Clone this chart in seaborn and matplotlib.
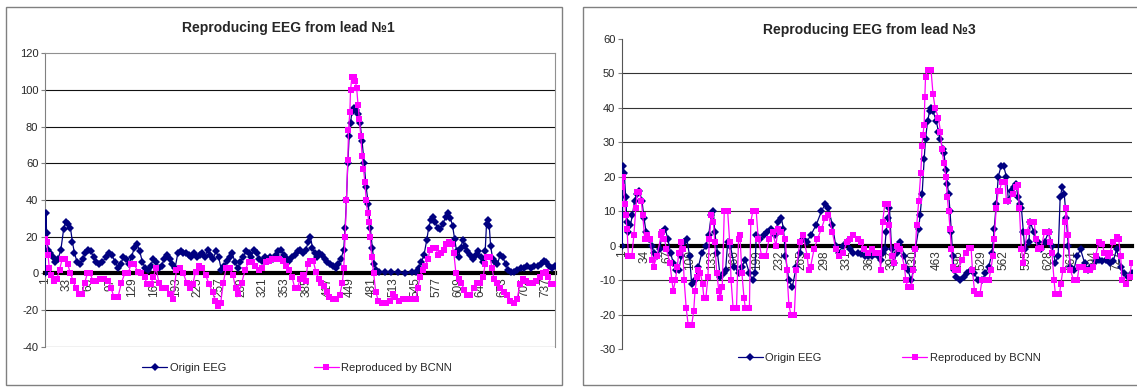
import matplotlib
matplotlib.use('Agg')
import matplotlib.pyplot as plt
import seaborn as sns
from matplotlib.lines import Line2D
from matplotlib.patches import Rectangle

# ---- lead 1 (sample index, value) ----
lead1_origin_x = [1, 2, 3, 5, 8, 12, 16, 20, 24, 28, 31, 34, 38, 41, 44, 48, 52, 56, 60, 64, 68, 72, 76, 80, 85,
                  90, 95, 99, 104, 108, 112, 116, 120, 124, 128, 132, 136, 140, 144, 148, 152, 156, 160, 164, 168,
                  172, 176, 180, 184, 188, 192, 196, 200, 204, 208, 212, 216, 220, 224, 228, 232, 236, 240, 244,
                  248, 252, 256, 260, 264, 268, 272, 276, 280, 284, 288, 292, 296, 300, 304, 308, 312, 316, 320,
                  324, 328, 332, 336, 340, 344, 348, 352, 356, 360, 364, 368, 372, 376, 380, 384, 388, 391, 394,
                  397, 400, 404, 408, 412, 416, 420, 424, 428, 432, 436, 440, 442, 444, 446, 448, 450, 452, 455,
                  458, 461, 464, 467, 470, 473, 476, 479, 482, 485, 488, 492, 500, 510, 520, 530, 540, 546, 550,
                  554, 558, 562, 565, 568, 571, 574, 578, 582, 586, 590, 594, 597, 600, 603, 606, 609, 612, 615,
                  618, 622, 626, 630, 634, 638, 642, 645, 648, 650, 652, 654, 656, 659, 662, 666, 670, 674, 678,
                  682, 686, 690, 695, 700, 705, 710, 715, 720, 725, 730, 734, 738, 742, 746, 750]
lead1_origin_y = [0, 33, 22, 13, 11, 9, 6, 8, 13, 24, 28, 27, 25, 17, 11, 6, 5, 8, 11, 13, 12, 9, 6, 5, 6,
                  9, 11, 10, 6, 3, 5, 9, 8, 5, 9, 14, 16, 12, 6, 3, 2, 4, 8, 6, 3,
                  4, 8, 10, 8, 5, 3, 11, 12, 11, 11, 10, 9, 11, 9, 10, 11, 9, 13, 10,
                  8, 12, 9, 2, 4, 7, 9, 11, 6, 3, 6, 9, 12, 11, 9, 13, 11, 8, 7,
                  9, 8, 9, 8, 10, 12, 13, 10, 8, 7, 9, 10, 12, 13, 11, 13, 17, 20, 14,
                  11, 9, 11, 10, 8, 6, 5, 4, 3, 5, 8, 13, 25, 40, 60, 75, 82, 88, 90,
                  89, 87, 82, 72, 60, 47, 38, 25, 14, 5, 2, 1, 0.5, 0.5, 0.5, 0, 0.5, 1, 3,
                  6, 10, 18, 25, 29, 31, 28, 25, 24, 27, 31, 33, 30, 26, 19, 12, 9, 14, 18,
                  15, 12, 10, 8, 10, 12, 9, 6, 12, 27, 29, 26, 15, 8, 6, 5, 10, 9, 5,
                  2, 1, 1, 2, 3, 3, 4, 3, 4, 4, 5, 7, 6, 4, 3, 4]

lead1_bcnn_x = [1, 3, 5, 7, 10, 14, 18, 22, 26, 30, 34, 38, 42, 46, 50, 55, 59, 63, 67, 71, 76, 82, 88, 94, 98,
                102, 108, 113, 118, 123, 127, 132, 137, 142, 147, 151, 156, 160, 164, 168, 173, 179, 184, 189,
                194, 199, 204, 209, 214, 218, 222, 227, 232, 237, 242, 247, 251, 255, 259, 263, 267, 272, 277,
                281, 285, 290, 295, 300, 305, 310, 315, 320, 325, 330, 335, 340, 345, 350, 355, 360, 364, 368,
                372, 376, 380, 384, 387, 391, 395, 399, 403, 407, 411, 415, 419, 424, 429, 434, 438, 440, 442,
                444, 446, 447, 449, 450, 452, 455, 457, 459, 461, 463, 465, 467, 469, 471, 473, 475, 477, 479,
                481, 484, 487, 491, 496, 502, 508, 512, 516, 521, 527, 533, 540, 546, 549, 552, 556, 560, 564,
                567, 571, 575, 579, 583, 587, 591, 595, 599, 602, 605, 609, 613, 617, 621, 626, 631, 636, 641,
                645, 648, 651, 655, 658, 661, 665, 670, 675, 680, 685, 690, 695, 699, 703, 708, 713, 718, 723,
                728, 733, 737, 741, 745, 750]
lead1_bcnn_y = [19, 17, 10, 3, -1, -4, -3, 2, 8, 8, 5, 0, -4, -8, -11, -11, -5, 0, 0, -4, -4, -3, -3, -4, -8,
                -13, -13, -5, 0, 0, 5, 5, 1, 0, -2, -6, -6, -2, 3, -5, -8, -8, -11, -14,
                2, 3, 0, -5, -8, -6, 1, 4, 3, -1, -6, -10, -15, -18, -16, -5, 3, 3, -1,
                -8, -11, -5, 2, 6, 6, 4, 2, 3, 6, 7, 8, 8, 8, 7, 4, 2, -2, -8,
                -8, -3, -1, -4, 5, 7, 7, 1, -3, -5, -7, -10, -13, -14, -14, -12, -5, 3, 20,
                40, 62, 78, 88, 100, 107, 107, 105, 101, 92, 84, 75, 64, 57, 50, 40, 33, 28, 20,
                9, 0, -10, -15, -16, -16, -15, -11, -13, -15, -14, -14, -14, -14, -8, -2, 2, 4, 8,
                13, 14, 14, 10, 11, 13, 16, 17, 16, 11, 0, -3, -5, -9, -12, -12, -8, -5, -5,
                -2, 5, 9, 9, 3, -3, -5, -8, -10, -12, -15, -16, -14, -6, -3, -4, -5, -5, -4,
                -2, 0, 1, -2, -6, -6]

# ---- lead 3 ----
lead3_origin_x = [1, 2, 4, 6, 8, 10, 13, 16, 19, 22, 26, 30, 33, 36, 40, 44, 48, 52, 56, 60, 64, 68, 72, 76, 80,
                  84, 88, 92, 96, 100, 103, 108, 113, 118, 124, 128, 132, 135, 137, 141, 145, 150, 153, 156, 160,
                  166, 172, 177, 182, 188, 193, 196, 198, 204, 209, 214, 219, 225, 230, 235, 238, 241, 246, 251,
                  257, 262, 267, 272, 278, 286, 294, 299, 304, 310, 315, 320, 325, 331, 336, 341, 347, 352, 358,
                  363, 368, 373, 377, 381, 385, 387, 389, 392, 394, 397, 400, 405, 410, 416, 421, 426, 429, 432,
                  437, 439, 442, 445, 447, 450, 453, 455, 458, 463, 466, 469, 472, 474, 477, 479, 481, 483, 485,
                  487, 489, 492, 498, 503, 508, 514, 519, 524, 530, 535, 540, 545, 548, 551, 554, 558, 562, 566,
                  569, 573, 577, 580, 583, 586, 588, 591, 593, 599, 601, 606, 612, 617, 622, 628, 633, 638, 642,
                  645, 648, 651, 654, 657, 660, 665, 670, 675, 681, 686, 691, 697, 702, 707, 713, 718, 723, 728,
                  734, 739, 745, 750]
lead3_origin_y = [0, 23, 21, 14, 7, 4, 6, 9, 13, 15, 16, 13, 8, 4, 2, 0, -2, -3, -1, 4, 5, 2, -2, -5, -7,
                  -7, -3, 1, 2, -3, -11, -10, -6, -2, 0, 3, 9, 10, 4, -2, -9, -8, -7, 1, 0,
                  -6, -8, -6, -4, -8, -10, -8, 3, 2, 3, 4, 5, 3, 7, 8, 5, -3, -10, -12,
                  -6, -2, 2, 1, 3, 6, 10, 12, 11, 6, 0, -2, 0, 1, -1, -2, -2, -2.5, -3,
                  -3, -3, -2.5, -3, -4, -2, -1, 4, 8, 11, -1, -5, -2, 1, -3, -7, -10, -7, -1,
                  5, 9, 15, 25, 31, 36, 39, 40, 39, 36, 33, 31, 28, 27, 22, 18, 15, 10, 4,
                  -3, -7, -9, -10, -9, -8, -7, -8, -10, -10, -8, -6, -2, 5, 12, 20, 23, 23, 20,
                  13, 16, 17, 18, 14, 12, 11, 4, -1, 1, 7, 4, 1, -1, 1, 4, 0, -5, -3,
                  14, 17, 15, 8, 0, -6, -7, -3, -1, -5, -7, -6, -4.5, -4, -4.5, -4, -5, -4.5, -1,
                  -6, -8, -9, -8]

lead3_bcnn_x = [1, 2, 5, 6, 8, 10, 13, 15, 18, 21, 23, 26, 29, 31, 34, 37, 42, 45, 47, 52, 58, 60, 63, 66, 71,
                74, 76, 79, 82, 84, 87, 90, 92, 95, 98, 103, 106, 108, 111, 113, 116, 119, 121, 124, 127, 129,
                132, 135, 137, 140, 143, 145, 148, 151, 156, 159, 161, 164, 169, 172, 174, 177, 180, 182, 188,
                190, 193, 198, 201, 206, 212, 217, 222, 227, 230, 235, 241, 243, 246, 249, 254, 257, 262, 267,
                273, 275, 278, 283, 288, 294, 299, 304, 310, 315, 320, 326, 331, 336, 341, 347, 352, 357, 363,
                368, 373, 379, 381, 384, 387, 392, 394, 397, 400, 405, 410, 416, 418, 421, 426, 429, 432, 434,
                437, 440, 442, 443, 445, 446, 447, 450, 455, 458, 461, 466, 469, 471, 474, 477, 479, 481, 483,
                485, 487, 490, 495, 501, 506, 511, 514, 516, 519, 522, 527, 530, 535, 540, 543, 546, 548, 551,
                554, 556, 559, 564, 566, 569, 575, 580, 583, 585, 588, 591, 596, 601, 607, 609, 612, 617, 622,
                628, 630, 633, 636, 638, 644, 646, 649, 652, 654, 657, 660, 665, 670, 673, 678, 683, 689, 694,
                697, 702, 707, 710, 715, 718, 723, 728, 731, 734, 736, 742, 747, 750]
lead3_bcnn_y = [17, 20, 12, 9, 5, -3, -3, -3, 3, 11, 15.5, 15.5, 13, 9, 2, 3, 2, -4, -6, -3, 3, 4, 2, -1, -5,
                -10, -13, -10, -6, -2, 1, -1, -10, -18, -23, -23, -19, -13, -9, -7, -8, -11, -15, -15, -9, 2,
                9, 7, 1, -8, -13, -15, -12, 10, 10, 1, -10, -18, -18, 2, 3, -8, -15, -18, -18,
                7, 10, 10, 2, -3, -3, 2, 4, 0, 5, 4, 2, -7, -17, -20, -20, -7, 1, 3,
                -3, -7, -6, -1, 2, 5, 8, 9, 4, -1, -3, -2, 1, 2, 3, 2, 1, -1, -2,
                -1, -2, -2, -7, 7, 12, 12, 6, -3, -5, 0, -1, -6, -10, -12, -12, -7, -1, 6,
                13, 21, 29, 32, 35, 43, 49, 51, 51, 44, 40, 37, 33, 28, 24, 20, 14, 10, 5,
                -1, -6, -7, -7, -4, -2, -0.5, -0.5, -7, -13, -14, -14, -10, -10, -10, -7, -3, 2, 11,
                16, 16, 18.5, 18.5, 13, 13, 15, 17, 17.5, 11, -1, -5, 4, 7, 7, 2, -1, -0.5, 4,
                4, 1, -2, -10, -14, -14, -11, -7, 7, 11, 3, -7, -10, -10, -6, -6, -7, -7, -6,
                -3, 1, 0.5, -2, -3, -2, 1, 2.5, 2, -3, -10, -11, -9, -5]

lead1_ticks = list(range(1, 750, 32))
lead3_ticks = list(range(1, 750, 33))
lead1_yticks = list(range(-40, 121, 20))
lead3_yticks = list(range(-30, 61, 10))

NAVY = '#000080'
PINK = '#FF00FF'

sns.set_style('white')
plt.rcParams['font.family'] = ['Liberation Sans', 'DejaVu Sans']
plt.rcParams['axes.unicode_minus'] = False

fig = plt.figure(figsize=(11.37, 3.87), dpi=100)

# chart frames
fig.add_artist(Rectangle((0.0053, 0.005), 0.489, 0.977, transform=fig.transFigure,
                         fill=False, edgecolor='#808080', linewidth=1))
fig.add_artist(Rectangle((0.5127, 0.004), 0.52, 0.979, transform=fig.transFigure,
                         fill=False, edgecolor='#808080', linewidth=1))


def draw_panel(ax, ox, oy, bx, by, xticks, yticks, grid_color):
    sns.lineplot(x=ox, y=oy, ax=ax, color=NAVY, marker='D', markersize=3.8,
                 markeredgewidth=0, linewidth=0.9, zorder=3)
    sns.lineplot(x=bx, y=by, ax=ax, color=PINK, marker='s', markersize=4.2,
                 markeredgewidth=0, linewidth=0.9, zorder=4)
    ax.set_xlim(1, 750)
    ax.set_ylim(yticks[0], yticks[-1])
    ax.set_xticks(xticks)
    ax.set_xticklabels([str(t) for t in xticks])
    ax.set_yticks(yticks)
    ax.set_xlabel('')
    ax.set_ylabel('')
    ax.grid(axis='y', color=grid_color, linewidth=0.8)
    ax.set_axisbelow(True)
    ax.spines['bottom'].set_position(('data', 0))
    ax.spines['bottom'].set_linewidth(3)
    ax.spines['bottom'].set_color('black')
    ax.spines['bottom'].set_zorder(2)
    ax.spines['left'].set_color('#808080')
    ax.spines['left'].set_linewidth(0.8)
    ax.tick_params(axis='y', direction='out', length=3, width=0.8, color='#808080',
                   labelsize=8, pad=2, left=True)
    ax.tick_params(axis='x', length=0, labelsize=8.5, labelrotation=90,
                   labelcolor='#333333', pad=3)
    ax.set_facecolor('none')


ax1 = fig.add_axes([0.0398, 0.1039, 0.4479, 0.7586])
draw_panel(ax1, lead1_origin_x, lead1_origin_y, lead1_bcnn_x, lead1_bcnn_y,
           lead1_ticks, lead1_yticks, '#111111')
ax1.yaxis.get_gridlines()[-1].set_visible(False)
for s in ['top', 'right']:
    ax1.spines[s].set_color('#909090')
    ax1.spines[s].set_linewidth(0.8)

ax2 = fig.add_axes([0.5473, 0.0969, 0.4479, 0.8036])
draw_panel(ax2, lead3_origin_x, lead3_origin_y, lead3_bcnn_x, lead3_bcnn_y,
           lead3_ticks, lead3_yticks, '#333333')
ax2.yaxis.get_gridlines()[0].set_visible(False)
ax2.yaxis.get_gridlines()[-1].set_visible(False)
ax2.spines['top'].set_visible(False)
ax2.spines['right'].set_visible(False)
ax2.spines['left'].set_color('#555555')

fig.text(288 / 1137, 1 - 28 / 387, 'Reproducing EEG from lead №1', ha='center', va='center',
         fontsize=10, fontweight='bold')
fig.text(869 / 1137, 1 - 30 / 387, 'Reproducing EEG from lead №3', ha='center', va='center',
         fontsize=10, fontweight='bold')

handles = [Line2D([], [], color=NAVY, marker='D', markersize=3.8, markeredgewidth=0, linewidth=0.9),
           Line2D([], [], color=PINK, marker='s', markersize=4.2, markeredgewidth=0, linewidth=0.9)]
labels = ['Origin EEG', 'Reproduced by BCNN']
fig.legend(handles, labels, loc='center', bbox_to_anchor=(297 / 1137, 1 - 368 / 387), ncol=2,
           frameon=False, fontsize=8, handlelength=2.3, handletextpad=0.2, columnspacing=7.9)
fig.legend(handles, labels, loc='center', bbox_to_anchor=(889 / 1137, 1 - 358 / 387), ncol=2,
           frameon=False, fontsize=8, handlelength=2.3, handletextpad=0.2, columnspacing=7.2)

fig.savefig('out.png', dpi=100)
